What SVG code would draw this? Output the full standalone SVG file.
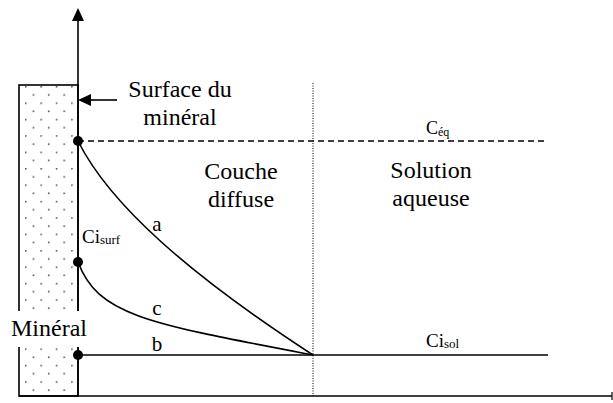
<svg xmlns="http://www.w3.org/2000/svg" width="613" height="403" viewBox="0 0 613 403">
<defs>
<pattern id="dots" x="25" y="86" width="15.4" height="16.4" patternUnits="userSpaceOnUse">
<circle cx="0.7" cy="0.7" r="0.9" fill="#555"/>
<circle cx="8.4" cy="8.9" r="0.9" fill="#555"/>
</pattern>
</defs>
<style>
.ln{stroke:#000;stroke-width:1.6;fill:none}
</style>
<rect x="0" y="0" width="613" height="403" fill="#fff"/>
<g id="mineral">
<rect x="19" y="85" width="59" height="311" fill="url(#dots)" stroke="#000" stroke-width="1.6"/>
<rect x="8" y="311" width="84" height="36" fill="#fff"/>
<text font-family="'Liberation Serif', serif" x="49" y="336" font-size="24" text-anchor="middle">Minéral</text>
</g>
<g id="connectors">
<line class="ln" x1="78" y1="396" x2="78" y2="347"/>
<line class="ln" x1="78" y1="311" x2="78" y2="20"/>
<path d="M72,21 L78,8 L84,21 Z" fill="#000"/>
<line class="ln" x1="19" y1="396" x2="612" y2="396"/>
<line x1="612" y1="392" x2="612" y2="400" stroke="#000" stroke-width="1.2"/>
<line class="ln" x1="117" y1="100" x2="91" y2="100"/>
<path d="M91,94 L78,100 L91,106 Z" fill="#000"/>
<line x1="78" y1="141" x2="548" y2="141" stroke="#000" stroke-width="1.6" stroke-dasharray="6,4"/>
<line x1="313" y1="83" x2="313" y2="396" stroke="#000" stroke-width="1" stroke-dasharray="1,1.5"/>
<line class="ln" x1="78" y1="355" x2="548" y2="355"/>
<path class="ln" d="M78,141 C110,205 190,275 313,355"/>
<path class="ln" d="M78,262 C98,315 145,323 313,355"/>
<circle cx="78" cy="141" r="5" fill="#000"/>
<circle cx="78" cy="262" r="5" fill="#000"/>
<circle cx="78" cy="355" r="5" fill="#000"/>
</g>
<g id="labels" font-family="'Liberation Serif', 'DejaVu Serif', serif">
<text x="180" y="97" font-size="24" text-anchor="middle">Surface du</text>
<text x="180" y="125" font-size="24" text-anchor="middle">minéral</text>
<text x="241" y="179" font-size="24" text-anchor="middle">Couche</text>
<text x="241" y="207" font-size="24" text-anchor="middle">diffuse</text>
<text x="431" y="178" font-size="24" text-anchor="middle">Solution</text>
<text x="431" y="206" font-size="24" text-anchor="middle">aqueuse</text>
<text x="426" y="134" font-size="18">C<tspan font-size="12" dy="2">éq</tspan></text>
<text x="82" y="243" font-size="19">Ci<tspan font-size="13" dy="1">surf</tspan></text>
<text x="426" y="347" font-size="19">Ci<tspan font-size="13" dy="1">sol</tspan></text>
<text x="157" y="231" font-size="21" text-anchor="middle">a</text>
<text x="157" y="315" font-size="21" text-anchor="middle">c</text>
<text x="157" y="351" font-size="21" text-anchor="middle">b</text>
</g>
</svg>
